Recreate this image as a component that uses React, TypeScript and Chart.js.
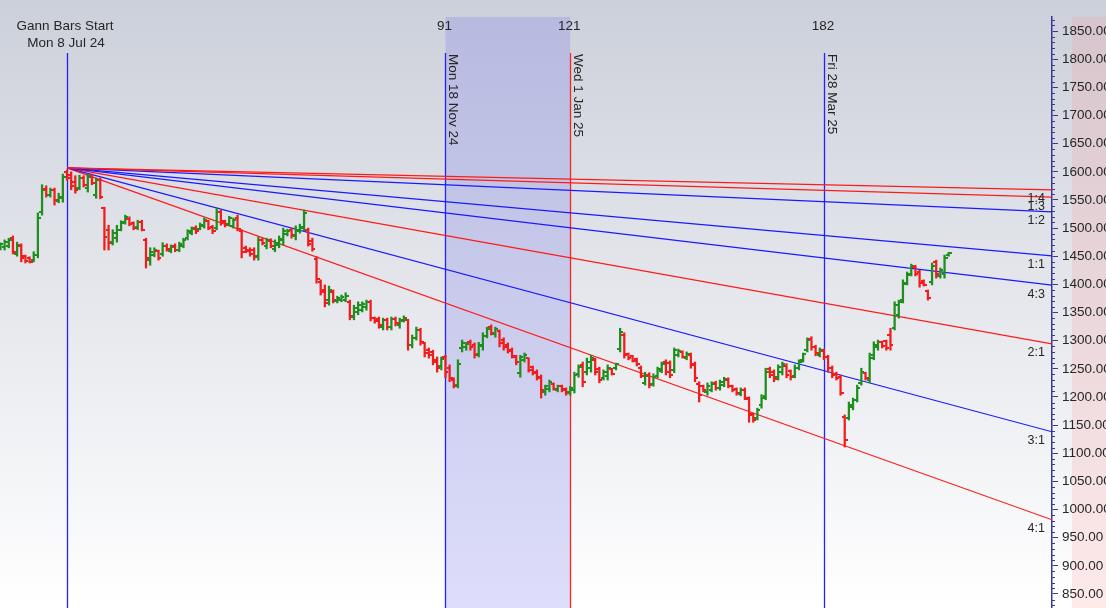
import React, { useEffect, useRef } from 'react';
import { Chart, registerables } from 'chart.js';

Chart.register(...registerables);

// ---------- data ----------
const FIRST_BAR = -16; // bar number of the first bar (0 = Gann start, Mon 8 Jul 24)

const opens = [
  1463, 1466, 1468, 1482, 1454, 1468, 1450, 1447, 1443, 1452, 1529, 1569, 1559, 1568, 1548, 1553,
  1600, 1594, 1582, 1571, 1589, 1571, 1593, 1559, 1585, 1536, 1497, 1475, 1482, 1497, 1511, 1516, 1509, 1502, 1511, 1479, 1443,
  1452, 1459, 1454, 1468, 1459, 1468, 1461, 1468, 1482, 1491, 1500, 1498, 1504, 1513, 1502, 1500, 1529, 1513, 1507, 1504,
  1518, 1495, 1465, 1461, 1461, 1450, 1479, 1468, 1477, 1463, 1470, 1479, 1490, 1497, 1486, 1495, 1500, 1497, 1477, 1445,
  1404, 1390, 1372, 1386, 1370, 1372, 1372, 1369, 1342, 1351, 1354, 1360, 1369, 1340, 1338, 1324, 1337, 1324, 1338, 1328,
  1335, 1337, 1292, 1305, 1319, 1296, 1283, 1280, 1266, 1255, 1271, 1251, 1230, 1221, 1287, 1289, 1297, 1292, 1276, 1290,
  1308, 1324, 1312, 1317, 1301, 1292, 1283, 1271, 1243, 1266, 1269, 1253, 1244, 1235, 1209, 1214, 1223, 1212, 1219, 1214,
  1209, 1212, 1241, 1257, 1244, 1251, 1266, 1250, 1234, 1237, 1250, 1251, 1285, 1310, 1276, 1273, 1267, 1251, 1225, 1239,
  1223, 1237, 1246, 1262, 1260, 1248, 1275, 1280, 1269, 1274, 1259, 1223, 1219, 1209, 1212, 1225, 1216, 1221, 1230, 1219,
  1214, 1205, 1212, 1196, 1170, 1163, 1186, 1202, 1250, 1244, 1235, 1244, 1255, 1246, 1237, 1251, 1266, 1283, 1303, 1289,
  1274, 1282, 1271, 1251, 1241, 1235, 1164, 1163, 1182, 1195, 1225, 1243, 1230, 1275, 1289, 1298, 1299, 1310, 1323, 1346,
  1372, 1402, 1418, 1431, 1422, 1406, 1388, 1404, 1440, 1415, 1418, 1452,
];

const highs = [
  1474, 1479, 1482, 1486, 1475, 1472, 1452, 1449, 1458, 1527, 1577, 1575, 1571, 1571, 1562, 1596,
  1603, 1600, 1593, 1594, 1593, 1596, 1596, 1589, 1589, 1537, 1505, 1497, 1505, 1513, 1523, 1520, 1511, 1514, 1514, 1482, 1465,
  1465, 1461, 1474, 1472, 1470, 1472, 1475, 1482, 1497, 1502, 1504, 1509, 1518, 1514, 1505, 1536, 1532, 1514, 1521, 1518,
  1523, 1497, 1468, 1465, 1465, 1484, 1482, 1482, 1481, 1479, 1486, 1500, 1498, 1500, 1504, 1507, 1532, 1500, 1482, 1449,
  1408, 1399, 1397, 1390, 1379, 1381, 1385, 1372, 1363, 1369, 1369, 1372, 1372, 1342, 1342, 1340, 1340, 1342, 1342, 1340,
  1344, 1338, 1310, 1324, 1322, 1297, 1287, 1283, 1271, 1271, 1274, 1257, 1234, 1266, 1301, 1297, 1301, 1296, 1297, 1314,
  1324, 1328, 1324, 1319, 1305, 1296, 1287, 1274, 1274, 1278, 1269, 1255, 1248, 1239, 1221, 1230, 1225, 1221, 1221, 1216,
  1219, 1244, 1257, 1262, 1269, 1274, 1269, 1253, 1248, 1257, 1251, 1260, 1322, 1314, 1278, 1274, 1269, 1255, 1244, 1243,
  1241, 1253, 1262, 1266, 1264, 1287, 1285, 1282, 1280, 1278, 1262, 1227, 1221, 1225, 1227, 1228, 1230, 1235, 1234, 1221,
  1216, 1216, 1216, 1200, 1171, 1180, 1204, 1251, 1253, 1248, 1257, 1262, 1259, 1248, 1257, 1266, 1278, 1305, 1307, 1292,
  1287, 1285, 1274, 1255, 1244, 1239, 1168, 1191, 1198, 1221, 1251, 1244, 1278, 1298, 1301, 1299, 1301, 1322, 1369, 1372,
  1408, 1422, 1436, 1434, 1425, 1408, 1390, 1438, 1443, 1429, 1452, 1457,
];

const lows = [
  1461, 1461, 1465, 1454, 1450, 1440, 1438, 1438, 1440, 1447, 1523, 1555, 1555, 1541, 1545, 1546,
  1585, 1568, 1562, 1568, 1573, 1564, 1577, 1553, 1552, 1461, 1461, 1470, 1475, 1495, 1507, 1504, 1497, 1497, 1495, 1429, 1434,
  1449, 1443, 1450, 1459, 1456, 1458, 1458, 1465, 1479, 1488, 1490, 1497, 1500, 1497, 1490, 1497, 1505, 1502, 1504, 1500,
  1495, 1447, 1456, 1450, 1443, 1443, 1470, 1463, 1465, 1458, 1465, 1470, 1486, 1482, 1479, 1491, 1495, 1468, 1459, 1402,
  1381, 1360, 1363, 1367, 1367, 1369, 1369, 1337, 1337, 1346, 1351, 1354, 1335, 1331, 1322, 1319, 1319, 1319, 1326, 1322,
  1333, 1283, 1287, 1301, 1292, 1271, 1269, 1257, 1244, 1248, 1234, 1227, 1216, 1216, 1280, 1283, 1283, 1269, 1271, 1283,
  1305, 1310, 1306, 1289, 1283, 1278, 1269, 1257, 1235, 1262, 1244, 1239, 1230, 1198, 1203, 1209, 1212, 1209, 1209, 1203,
  1203, 1207, 1235, 1218, 1239, 1244, 1239, 1225, 1230, 1230, 1239, 1248, 1280, 1269, 1266, 1262, 1255, 1234, 1221, 1216,
  1219, 1234, 1243, 1239, 1234, 1243, 1271, 1269, 1266, 1251, 1227, 1191, 1209, 1203, 1209, 1212, 1212, 1218, 1216, 1209,
  1203, 1202, 1195, 1155, 1155, 1159, 1180, 1195, 1234, 1227, 1230, 1239, 1234, 1230, 1234, 1248, 1262, 1280, 1283, 1273,
  1271, 1266, 1244, 1234, 1230, 1203, 1111, 1159, 1177, 1191, 1221, 1230, 1225, 1266, 1283, 1287, 1283, 1283, 1319, 1340,
  1367, 1399, 1415, 1415, 1395, 1397, 1372, 1399, 1411, 1411, 1411, 1450,
];

const closes = [
  1472, 1475, 1479, 1458, 1470, 1447, 1442, 1440, 1452, 1518, 1568, 1559, 1568, 1550, 1555, 1591,
  1589, 1575, 1568, 1589, 1577, 1591, 1580, 1585, 1555, 1484, 1474, 1491, 1497, 1509, 1520, 1507, 1500, 1511, 1497, 1447, 1458,
  1461, 1447, 1468, 1463, 1466, 1461, 1472, 1479, 1495, 1498, 1495, 1505, 1514, 1500, 1495, 1529, 1511, 1505, 1518, 1514,
  1498, 1458, 1459, 1454, 1449, 1479, 1474, 1479, 1468, 1474, 1481, 1495, 1495, 1488, 1497, 1502, 1527, 1472, 1463, 1410,
  1386, 1367, 1390, 1372, 1376, 1378, 1379, 1344, 1358, 1363, 1365, 1369, 1340, 1335, 1328, 1337, 1324, 1338, 1331, 1337,
  1340, 1292, 1305, 1319, 1297, 1278, 1274, 1262, 1251, 1267, 1244, 1234, 1219, 1259, 1296, 1294, 1289, 1274, 1292, 1308,
  1321, 1314, 1321, 1296, 1289, 1281, 1273, 1262, 1271, 1274, 1248, 1243, 1234, 1212, 1219, 1227, 1214, 1219, 1212, 1207,
  1216, 1239, 1253, 1227, 1262, 1269, 1244, 1230, 1244, 1251, 1241, 1259, 1315, 1274, 1269, 1264, 1259, 1237, 1237, 1221,
  1235, 1250, 1259, 1244, 1239, 1283, 1282, 1271, 1276, 1257, 1234, 1203, 1212, 1219, 1223, 1216, 1227, 1232, 1219, 1212,
  1207, 1212, 1198, 1168, 1159, 1177, 1198, 1244, 1239, 1232, 1253, 1259, 1239, 1235, 1251, 1262, 1276, 1301, 1289, 1278,
  1283, 1271, 1251, 1239, 1234, 1207, 1124, 1186, 1195, 1216, 1244, 1234, 1269, 1292, 1298, 1291, 1287, 1292, 1363, 1369,
  1401, 1417, 1433, 1418, 1402, 1399, 1376, 1433, 1418, 1425, 1447, 1456,
];

// Gann fan
const GANN_ORIGIN_BAR = 0;
const GANN_ORIGIN_PRICE = 1607;
const GANN_UNIT = 0.66; // price change per bar on the 1:1 line
const fanLabels = ['1:4', '1:3', '1:2', '1:1', '4:3', '2:1', '3:1', '4:1'];
const fanSlopes = [1 / 4, 1 / 3, 1 / 2, 1, 4 / 3, 2, 3, 4];
const fanColors = ['#ff1a1a', '#ff1a1a', '#1a1aff', '#1a1aff', '#1a1aff', '#ff1a1a', '#1a1aff', '#ff1a1a'];

// Time markers (bar counts from the Gann start)
const markerBars = [0, 91, 121, 182];
const markerCounts = ['', '91', '121', '182'];
const markerDates = ['Mon 8 Jul 24', 'Mon 18 Nov 24', 'Wed 1 Jan 25', 'Fri 28 Mar 25'];
const markerColors = ['#2222ff', '#2222ff', '#ff2222', '#2222ff'];
const startTitle = 'Gann Bars Start';

// Axis ranges and price tick labels
const X_MIN = -16.11;
const X_MAX = 236.84;
const Y_MIN = 825;
const Y_MAX = 1875;
const yTickValues = [850, 900, 950, 1000, 1050, 1100, 1150, 1200, 1250, 1300, 1350, 1400, 1450, 1500, 1550, 1600, 1650, 1700, 1750, 1800, 1850];
const Y_MINOR_STEP = 10;

const UP = '#1e8f1e';
const DOWN = '#f21c1c';
const AXIS = '#3a3a96';
const TEXT = '#262626';
const FONT = '"Liberation Sans", Arial, sans-serif';

function tickImage(color: string, side: 'open' | 'close') {
  const c = document.createElement('canvas');
  c.width = 6;
  c.height = 2;
  const g = c.getContext('2d')!;
  g.fillStyle = color;
  g.fillRect(side === 'open' ? 0 : 3, 0, 3, 2);
  return c;
}

export default function App() {
  const ref = useRef<HTMLCanvasElement>(null);

  useEffect(() => {
    document.body.style.margin = '0';
    const canvas = ref.current!;
    const n = opens.length;
    const bars: any[] = [];
    const openPts: any[] = [];
    const closePts: any[] = [];
    const barColors: string[] = [];
    for (let k = 0; k < n; k++) {
      const x = FIRST_BAR + k;
      bars.push({ x, y: [lows[k], highs[k]] });
      openPts.push({ x, y: opens[k] });
      closePts.push({ x, y: closes[k] });
      barColors.push(closes[k] >= opens[k] ? UP : DOWN);
    }
    const upOpen = tickImage(UP, 'open');
    const dnOpen = tickImage(DOWN, 'open');
    const upClose = tickImage(UP, 'close');
    const dnClose = tickImage(DOWN, 'close');

    const fanEnd = (s: number) => GANN_ORIGIN_PRICE - s * GANN_UNIT * (X_MAX - GANN_ORIGIN_BAR);

    const fanDatasets = fanSlopes.map((s, j) => ({
      type: 'line' as const,
      label: fanLabels[j],
      data: [
        { x: GANN_ORIGIN_BAR, y: GANN_ORIGIN_PRICE },
        { x: X_MAX, y: fanEnd(s) },
      ],
      borderColor: fanColors[j],
      borderWidth: 1.2,
      pointRadius: 0,
      order: 5,
    }));

    const decor = {
      id: 'decor',
      beforeDraw(chart: any) {
        const { ctx, width, height, chartArea } = chart;
        ctx.save();
        const grad = ctx.createLinearGradient(0, 0, 0, height);
        grad.addColorStop(0, '#ccd0da');
        grad.addColorStop(1, '#ffffff');
        ctx.fillStyle = grad;
        ctx.fillRect(0, 0, width, height);
        ctx.fillStyle = 'rgba(255,150,150,0.2)';
        ctx.fillRect(chartArea.right + 20, chartArea.top, width - chartArea.right - 20, height - chartArea.top);
        ctx.restore();
      },
      beforeDatasetsDraw(chart: any) {
        const { ctx, chartArea } = chart;
        const xs = chart.scales.x;
        ctx.save();
        const b0 = xs.getPixelForValue(markerBars[1]);
        const b1 = xs.getPixelForValue(markerBars[2]);
        ctx.fillStyle = 'rgba(105,105,235,0.22)';
        ctx.fillRect(b0, chartArea.top, b1 - b0, chartArea.bottom - chartArea.top);
        const lineTop = chartArea.top + 36;
        markerBars.forEach((b, j) => {
          const px = Math.round(xs.getPixelForValue(b)) + 0.5;
          ctx.strokeStyle = markerColors[j];
          ctx.lineWidth = 1.3;
          ctx.beginPath();
          ctx.moveTo(px, lineTop);
          ctx.lineTo(px, chartArea.bottom);
          ctx.stroke();
        });
        ctx.restore();
      },
      afterDatasetsDraw(chart: any) {
        const { ctx, chartArea } = chart;
        const xs = chart.scales.x;
        const ys = chart.scales.y;
        ctx.save();
        ctx.fillStyle = TEXT;
        ctx.font = `13.5px ${FONT}`;
        ctx.textAlign = 'center';
        ctx.textBaseline = 'middle';
        const lineTop = chartArea.top + 36;
        markerBars.forEach((b, j) => {
          const px = xs.getPixelForValue(b);
          if (j === 0) {
            ctx.fillText(startTitle, px - 2, 26);
            ctx.fillText(markerDates[j], px - 1, 43);
          } else {
            ctx.fillText(markerCounts[j], px - 1, 26);
            ctx.save();
            ctx.translate(px + 4, lineTop + 1);
            ctx.rotate(Math.PI / 2);
            ctx.textAlign = 'left';
            ctx.textBaseline = 'alphabetic';
            ctx.fillText(markerDates[j], 0, 0);
            ctx.restore();
          }
        });
        // fan labels
        ctx.font = `12.5px ${FONT}`;
        ctx.textAlign = 'right';
        ctx.textBaseline = 'middle';
        fanSlopes.forEach((s, j) => {
          const py = ys.getPixelForValue(fanEnd(s));
          ctx.fillText(fanLabels[j], chartArea.right - 7, py + 9);
        });
        // minor ticks on the price axis
        ctx.strokeStyle = AXIS;
        ctx.lineWidth = 1;
        for (let v = Math.ceil(Y_MIN / Y_MINOR_STEP) * Y_MINOR_STEP; v <= Y_MAX; v += Y_MINOR_STEP) {
          if (yTickValues.includes(v)) continue;
          const py = Math.round(ys.getPixelForValue(v)) + 0.5;
          ctx.beginPath();
          ctx.moveTo(chartArea.right, py);
          ctx.lineTo(chartArea.right + 3, py);
          ctx.stroke();
        }
        ctx.restore();
      },
    };

    const chart = new Chart(canvas, {
      type: 'bar',
      data: {
        datasets: [
          {
            type: 'scatter',
            data: openPts,
            pointStyle: (c: any) => (closes[c.dataIndex] >= opens[c.dataIndex] ? upOpen : dnOpen),
            pointRadius: 3,
            order: 0,
          } as any,
          {
            type: 'scatter',
            data: closePts,
            pointStyle: (c: any) => (closes[c.dataIndex] >= opens[c.dataIndex] ? upClose : dnClose),
            pointRadius: 3,
            order: 0,
          } as any,
          {
            type: 'bar',
            data: bars,
            backgroundColor: barColors,
            borderWidth: 0,
            barThickness: 1.6,
            grouped: false,
            order: 1,
          } as any,
          ...fanDatasets,
        ],
      },
      options: {
        responsive: false,
        animation: false,
        events: [],
        layout: { autoPadding: false, padding: { top: 17, left: 0, right: 0, bottom: 0 } },
        plugins: {
          legend: { display: false },
          tooltip: { enabled: false },
        },
        scales: {
          x: {
            type: 'linear',
            min: X_MIN,
            max: X_MAX,
            display: false,
            offset: false,
            grid: { offset: false },
          },
          y: {
            type: 'linear',
            position: 'right',
            min: Y_MIN,
            max: Y_MAX,
            afterBuildTicks: (scale: any) => {
              scale.ticks = yTickValues.map((v) => ({ value: v }));
            },
            afterFit: (scale: any) => {
              scale.width = 54;
              scale.paddingTop = 0;
              scale.paddingBottom = 0;
            },
            ticks: {
              padding: 4,
              color: TEXT,
              font: { family: FONT, size: 13.5 },
              callback: (v: any) => Number(v).toFixed(2),
            },
            grid: {
              drawOnChartArea: false,
              drawTicks: true,
              tickLength: 6,
              tickColor: AXIS,
              tickWidth: 1,
            },
            border: { display: true, color: AXIS, width: 1.5 },
          },
        },
      },
      plugins: [decor],
    } as any);

    return () => chart.destroy();
  }, []);

  return (
    <div style={{ width: 1106, height: 608 }}>
      <canvas ref={ref} width={1106} height={608} style={{ display: 'block' }} />
    </div>
  );
}
